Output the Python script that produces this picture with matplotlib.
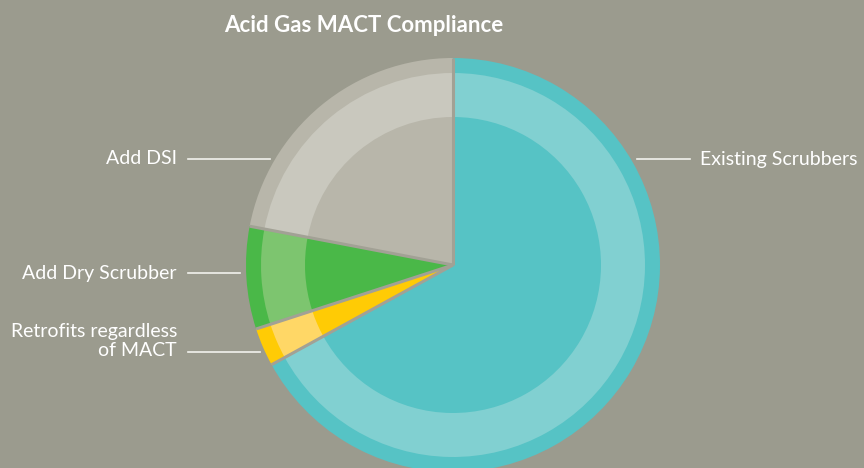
import numpy as np
import matplotlib
matplotlib.use("Agg")
import matplotlib.pyplot as plt

# data (percent of capacity), counter-clockwise from 12 o'clock
labels = ["Add DSI", "Add Dry Scrubber", "Retrofits regardless\nof MACT", "Existing Scrubbers"]
shares = [22, 8, 3, 67]

outer_colors = ["#b8b6aa", "#4ab848", "#ffcb05", "#56c3c5"]
mid_colors = ["#c9c8be", "#7dc56f", "#ffd766", "#81d0d1"]

bg = "#9b9b8e"
edge = "#a2a195"

W, H = 864, 468
fig = plt.figure(figsize=(W / 100, H / 100), dpi=100, facecolor=bg)
ax = fig.add_axes([0, 0, 1, 1])
ax.set_xlim(0, W)
ax.set_ylim(0, H)
ax.axis("off")

cx, cy = 453, H - 265
R_out, R_mid, R_in = 207, 192, 148

# three stacked pies: dark rim, light ring, dark core
for r, cols in [(R_out, outer_colors), (R_mid, mid_colors), (R_in, outer_colors)]:
    ax.pie(shares, colors=cols, startangle=90, counterclock=True,
           center=(cx, cy), radius=r, frame=True,
           wedgeprops=dict(linewidth=0))

# radial separators between slices
cum = np.concatenate([[0], np.cumsum(shares)]) / float(sum(shares))
for f in cum[:-1]:
    a = np.deg2rad(90 + 360 * f)
    ax.plot([cx, cx + R_out * np.cos(a)], [cy, cy + R_out * np.sin(a)],
            color=edge, linewidth=2.2, solid_capstyle="butt", zorder=5)

ax.set_xlim(0, W)
ax.set_ylim(0, H)
ax.set_aspect("equal")

# leader lines and labels
lc = "#f2f2ee"
font = ["Lato", "DejaVu Sans"]
left_lines = [(188, 270, 159), (188, 240, 273), (188, 260, 352)]
text_y = [159, 273, 341]
for (x0, x1, y), ty, lab in zip(left_lines, text_y, labels[:3]):
    ax.plot([x0, x1], [H - y, H - y], color=lc, linewidth=1.2)
    ax.text(177, H - ty, lab, ha="right", va="center", multialignment="right",
            fontsize=14, color="white", family=font, linespacing=1.1)

ax.plot([637, 690], [H - 159, H - 159], color=lc, linewidth=1.2)
ax.text(700, H - 159, labels[3], ha="left", va="center",
        fontsize=14, color="white", family=font)

ax.text(364, H - 25, "Acid Gas MACT Compliance", ha="center", va="center",
        fontsize=16, fontweight="bold", color="white", family=font)

fig.savefig("out.png", dpi=100, facecolor=bg)
